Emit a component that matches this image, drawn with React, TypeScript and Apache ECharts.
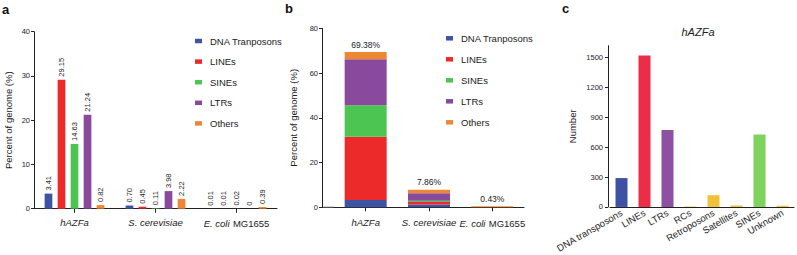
import React, { useEffect, useRef } from "react";
import * as echarts from "echarts";

const typeNames = ["DNA Tranposons", "LINEs", "SINEs", "LTRs", "Others"];
const typeColors = ["#3E53A4", "#ED2A2A", "#4DC552", "#894A9E", "#EE8734"];
const organisms = ["hAZFa", "S. cerevisiae", "E. coli MG1655"];

// Panel a: percent of genome per type
const pctDNA = [3.41, 0.7, 0.01];
const pctLINEs = [29.15, 0.45, 0.01];
const pctSINEs = [14.63, 0.11, 0.02];
const pctLTRs = [21.24, 3.98, 0];
const pctOthers = [0.82, 2.22, 0.39];

// Panel b: stacked composition
const stackDNA = [3.3, 1.3, 0.01];
const stackLINEs = [28.2, 1.1, 0.01];
const stackSINEs = [14.1, 0.5, 0.02];
const stackLTRs = [20.6, 3.4, 0];
const stackOthers = [3.2, 1.56, 0.39];
const totalLabels = ["69.38%", "7.86%", "0.43%"];

// Panel c: number of elements in hAZFa
const repeatClasses = ["DNA transposons", "LINEs", "LTRs", "RCs", "Retroposons", "Satellites", "SINEs", "Unknown"];
const repeatCounts = [290, 1522, 772, 5, 118, 15, 728, 12];
const repeatColors = ["#3F51A5", "#EC2D48", "#8E50A2", "#EFC23A", "#EFC23A", "#EFC23A", "#7ED35C", "#EFC23A"];
const countTicks = [0, 300, 600, 900, 1200, 1500];

const FONT = "Liberation Sans, Arial, Helvetica, sans-serif";
const AX = "#222";

const catFormatter = (v: string) =>
  v === "E. coli MG1655" ? "{i|E. coli} {n|MG1655}" : `{i|${v}}`;
const catRich = {
  i: { fontStyle: "italic", fontSize: 9.5, color: AX, fontFamily: FONT },
  n: { fontSize: 9.5, color: AX, fontFamily: FONT },
};

export default function App() {
  const ref = useRef<HTMLDivElement>(null);
  useEffect(() => {
    if (!ref.current) return;
    const chart = echarts.init(ref.current, null, { renderer: "svg" });
    const aData = [pctDNA, pctLINEs, pctSINEs, pctLTRs, pctOthers];
    const bData = [stackDNA, stackLINEs, stackSINEs, stackLTRs, stackOthers];

    const seriesA = typeNames.map((n, i) => ({
      name: n,
      type: "bar",
      xAxisIndex: 0,
      yAxisIndex: 0,
      data: aData[i],
      barWidth: 7.7,
      barGap: "69%",
      itemStyle: { color: typeColors[i] },
      label: {
        show: true,
        position: "top",
        rotate: 90,
        align: "left",
        verticalAlign: "middle",
        distance: 3,
        fontSize: 7.5,
        fontFamily: FONT,
        color: AX,
        formatter: (p: any) => (p.value === 0 ? "0" : Number(p.value).toFixed(2)),
      },
    }));

    const seriesB = typeNames.map((n, i) => ({
      name: n,
      type: "bar",
      xAxisIndex: 1,
      yAxisIndex: 1,
      stack: "b",
      data: bData[i],
      barWidth: 42,
      itemStyle: { color: typeColors[i] },
      label:
        i === typeNames.length - 1
          ? {
              show: true,
              position: "top",
              distance: 3,
              fontSize: 8.5,
              fontFamily: FONT,
              color: AX,
              formatter: (p: any) => totalLabels[p.dataIndex],
            }
          : { show: false },
    }));

    const seriesC = {
      name: "hAZFa count",
      type: "bar",
      xAxisIndex: 2,
      yAxisIndex: 2,
      barWidth: 12,
      data: repeatCounts.map((v, i) => ({ value: v, itemStyle: { color: repeatColors[i] } })),
    };

    const legendCommon = {
      orient: "vertical",
      icon: "rect",
      itemWidth: 7,
      itemHeight: 4.5,
      data: typeNames,
      selectedMode: false,
      textStyle: { fontSize: 9.5, fontFamily: FONT, color: AX, lineHeight: 12, padding: [0, 0, 0, 3] },
    };

    const axisLine = { show: true, lineStyle: { color: AX, width: 1 } };
    const tickLabel = { fontSize: 7.5, color: AX, margin: 4, fontFamily: FONT };
    const nameStyle = { fontSize: 9.5, color: AX, fontFamily: FONT };

    chart.setOption({
      animation: false,
      textStyle: { fontFamily: FONT },
      grid: [
        { left: 34, top: 31.7, width: 243, height: 177 },
        { left: 334, top: 28.3, width: 190, height: 179 },
        { left: 610, top: 45.7, width: 184, height: 161.6 },
      ],
      legend: [
        { ...legendCommon, left: 190, top: 30, itemGap: 8.6 },
        { ...legendCommon, left: 441, top: 27.3, itemGap: 9 },
      ],
      xAxis: [
        {
          type: "category",
          gridIndex: 0,
          data: organisms,
          axisLine,
          axisTick: { show: true, alignWithLabel: true, length: 4, lineStyle: { color: AX } },
          axisLabel: { margin: 9, interval: 0, hideOverlap: false, formatter: catFormatter, rich: catRich },
        },
        {
          type: "category",
          gridIndex: 1,
          data: organisms,
          axisLine,
          axisTick: { show: true, alignWithLabel: true, length: 4, lineStyle: { color: AX } },
          axisLabel: { margin: 10, interval: 0, hideOverlap: false, formatter: catFormatter, rich: catRich },
        },
        {
          type: "category",
          gridIndex: 2,
          data: repeatClasses,
          axisLine,
          axisTick: { show: false },
          axisLabel: { rotate: 30, margin: 5, fontSize: 9.5, color: AX, fontFamily: FONT, interval: 0 },
        },
      ],
      yAxis: [
        {
          type: "value",
          gridIndex: 0,
          min: 0,
          max: 40,
          interval: 10,
          axisLine,
          axisTick: { show: true, length: 3, lineStyle: { color: AX } },
          splitLine: { show: false },
          axisLabel: tickLabel,
          name: "Percent of genome (%)",
          nameLocation: "middle",
          nameGap: 21,
          nameTextStyle: nameStyle,
        },
        {
          type: "value",
          gridIndex: 1,
          min: 0,
          max: 80,
          interval: 20,
          offset: 12,
          axisLine,
          axisTick: { show: true, length: 3, lineStyle: { color: AX } },
          splitLine: { show: false },
          axisLabel: tickLabel,
          name: "Percent of genome (%)",
          nameLocation: "middle",
          nameGap: 24,
          nameTextStyle: nameStyle,
        },
        {
          type: "value",
          gridIndex: 2,
          min: 0,
          max: 1620,
          offset: 2,
          axisLine,
          axisTick: { show: true, length: 3, lineStyle: { color: AX }, customValues: countTicks },
          splitLine: { show: false },
          axisLabel: {
            ...tickLabel,
            margin: 5,
            customValues: countTicks,
            formatter: (v: number) => String(v),
          },
          name: "Number",
          nameLocation: "middle",
          nameGap: 31,
          nameTextStyle: nameStyle,
        },
      ],
      graphic: [
        { type: "line", shape: { x1: 322, y1: 207.3, x2: 334, y2: 207.3 }, style: { stroke: AX, lineWidth: 1 }, silent: true },
        { type: "text", x: 2, y: 9, style: { text: "a", font: `bold 13px ${FONT}`, fill: "#111", verticalAlign: "middle" } },
        { type: "text", x: 285, y: 8, style: { text: "b", font: `bold 13px ${FONT}`, fill: "#111", verticalAlign: "middle" } },
        { type: "text", x: 562, y: 8, style: { text: "c", font: `bold 13px ${FONT}`, fill: "#111", verticalAlign: "middle" } },
        { type: "text", x: 698, y: 32, style: { text: "hAZFa", font: `italic 11px ${FONT}`, fill: AX, align: "center", verticalAlign: "middle" } },
      ],
      series: [...seriesA, ...seriesB, seriesC],
    });
    return () => chart.dispose();
  }, []);
  return (
    <div
      ref={ref}
      style={{ position: "absolute", left: 0, top: 0, width: 797, height: 255, background: "#fff" }}
    />
  );
}
